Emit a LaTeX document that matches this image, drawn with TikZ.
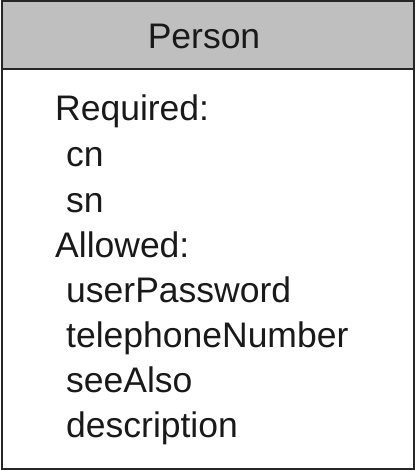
\documentclass[tikz,border=0pt]{standalone}
\usepackage{fontspec}
\setmainfont{Liberation Sans}
\usepackage{tikz}

\begin{document}
\begin{tikzpicture}[x=1pt,y=-1pt]
\tikzstyle{every node}+=[inner sep=0pt,font=\fontsize{35.5}{40}\selectfont,text=black!90]
\tikzstyle{attr}=[anchor=base west]
\useasboundingbox (0,0) rectangle (415,470);
\fill [black!25] (1.5,1.5) rectangle (413.5,69.5);
\draw [black!85,line width=2pt] (1.5,1.5) rectangle (413.5,468.5);
\draw [black!85,line width=2pt] (1.5,69.5) -- (413.5,69.5);
\node [anchor=base] (person) at (204,49) {Person};
\node [attr] (req) at (55,121) {Required:};
\node [attr] (cn) at (66,167) {cn};
\node [attr] (sn) at (66,212) {sn};
\node [attr] (allowed) at (55,257) {Allowed:};
\node [attr] (pw) at (66,302) {userPassword};
\node [attr] (tel) at (66,347) {telephoneNumber};
\node [attr] (see) at (66,392) {seeAlso};
\node [attr] (desc) at (66,437) {description};
\end{tikzpicture}
\end{document}
